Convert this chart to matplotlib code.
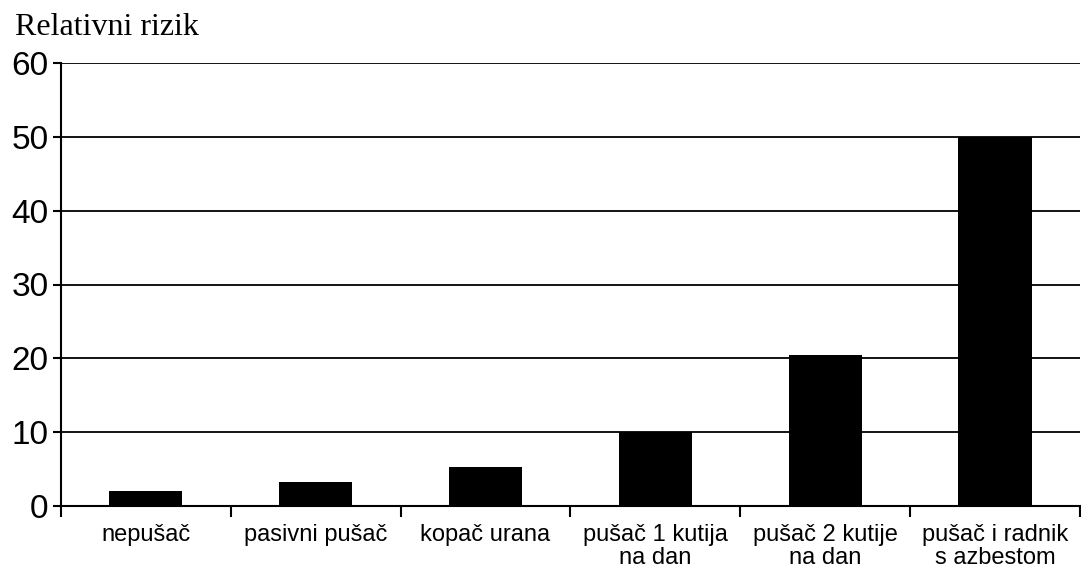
import numpy as np
import matplotlib.pyplot as plt

kategorije = ['nepušač', 'pasivni pušač', 'kopač urana',
              'pušač 1 kutija\nna dan', 'pušač 2 kutije\nna dan',
              'pušač i radnik\ns azbestom']
rizik = [2, 3.2, 5.2, 10, 20.5, 50]
y_ticks = [0, 10, 20, 30, 40, 50, 60]

fig = plt.figure(figsize=(10.81, 5.69), dpi=100)
ax = fig.add_axes([0.0564, 0.111, 0.9426, 0.778])

x = np.arange(len(kategorije))
ax.bar(x, rizik, width=0.43, color='black', zorder=3)

ax.set_ylim(0, 60)
ax.set_xlim(-0.5, len(kategorije) - 0.5)
ax.set_yticks(y_ticks)
ax.set_yticklabels([str(v) for v in y_ticks], fontsize=24, family='Liberation Sans')
ax.yaxis.grid(True, color='black', linewidth=1.3, zorder=1)

# ticks between categories on the x axis, labels centred under bars
ax.set_xticks(np.arange(len(kategorije) + 1) - 0.5)
ax.set_xticklabels([])
ax.set_xticks(x, minor=True)
ax.set_xticklabels(kategorije, minor=True, fontsize=17, family='Liberation Sans',
                   linespacing=1.05)
ax.tick_params(axis='x', which='minor', length=0, pad=13)
ax.tick_params(axis='x', which='major', length=8, width=1.5, direction='out')
ax.tick_params(axis='y', length=6, width=1.5, direction='out', pad=3)

for s in ['top', 'right']:
    ax.spines[s].set_visible(False)
ax.spines['left'].set_linewidth(1.5)
ax.spines['bottom'].set_linewidth(1.5)

fig.text(0.014, 1 - 35 / 569, 'Relativni rizik', fontsize=23, family='Liberation Serif',
         va='baseline', ha='left')

fig.savefig('out.png', dpi=100)
